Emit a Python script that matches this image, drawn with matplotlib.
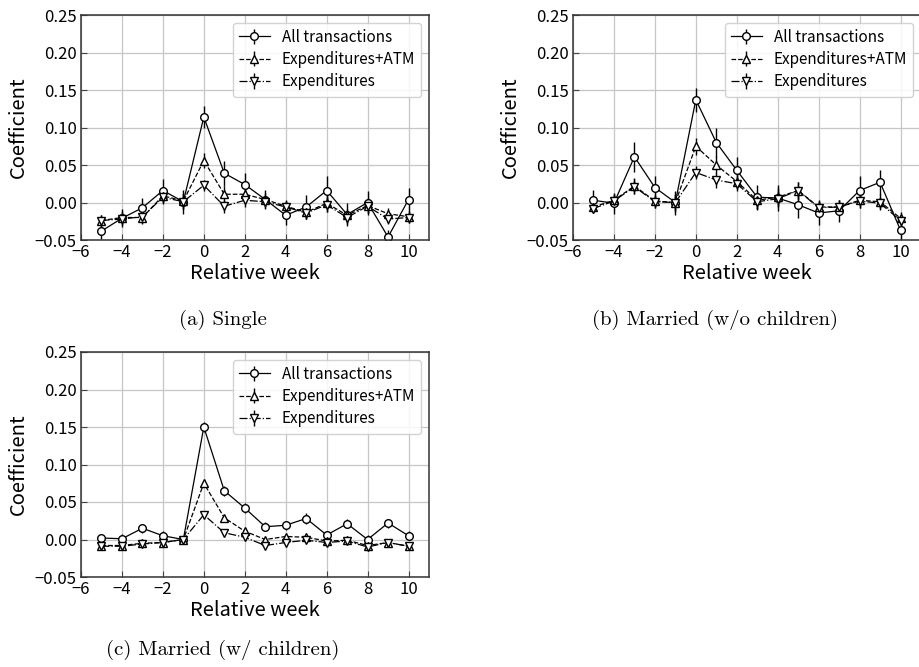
import matplotlib
matplotlib.use("Agg")
import matplotlib.pyplot as plt
from matplotlib.ticker import FuncFormatter
import numpy as np

# Relative weeks around the event
weeks = np.arange(-5, 11)

series_labels = ["All transactions", "Expenditures+ATM", "Expenditures"]
series_styles = ["-", "--", "-."]
series_markers = ["o", "^", "v"]

# (a) Single
single_all = [-0.038, -0.021, -0.007, 0.016, 0.001, 0.114, 0.039, 0.024, 0.004, -0.017,
              -0.006, 0.016, -0.016, 0.000, -0.046, 0.004]
single_all_err = [0.011, 0.012, 0.013, 0.015, 0.016, 0.015, 0.017, 0.015, 0.013, 0.013,
                  0.016, 0.020, 0.015, 0.016, 0.010, 0.016]
single_atm = [-0.024, -0.020, -0.020, 0.009, 0.002, 0.056, 0.011, 0.011, 0.004, -0.005,
              -0.013, -0.001, -0.017, -0.004, -0.015, -0.019]
single_atm_err = [0.008, 0.009, 0.009, 0.010, 0.011, 0.010, 0.011, 0.010, 0.009, 0.009,
                  0.009, 0.011, 0.009, 0.010, 0.008, 0.008]
single_exp = [-0.024, -0.022, -0.019, 0.007, 0.001, 0.023, -0.005, 0.003, 0.001, -0.006,
              -0.014, -0.003, -0.020, -0.005, -0.022, -0.020]
single_exp_err = [0.007, 0.008, 0.008, 0.009, 0.010, 0.007, 0.009, 0.009, 0.008, 0.008,
                  0.008, 0.010, 0.008, 0.009, 0.007, 0.007]

# (b) Married without children
nokid_all = [0.003, -0.001, 0.061, 0.020, 0.000, 0.137, 0.080, 0.043, 0.007, 0.006,
             -0.003, -0.014, -0.011, 0.016, 0.027, -0.037]
nokid_all_err = [0.014, 0.014, 0.020, 0.016, 0.016, 0.016, 0.019, 0.018, 0.017, 0.017,
                 0.018, 0.016, 0.015, 0.019, 0.017, 0.015]
nokid_atm = [-0.006, 0.003, 0.022, 0.002, 0.000, 0.075, 0.050, 0.028, 0.003, 0.007,
             0.016, -0.006, -0.006, 0.003, 0.001, -0.021]
nokid_atm_err = [0.007, 0.009, 0.011, 0.009, 0.012, 0.011, 0.012, 0.010, 0.011, 0.012,
                 0.012, 0.010, 0.010, 0.010, 0.010, 0.008]
nokid_exp = [-0.008, 0.002, 0.021, 0.001, 0.000, 0.040, 0.030, 0.025, 0.001, 0.005,
             0.016, -0.007, -0.006, 0.002, -0.001, -0.024]
nokid_exp_err = [0.006, 0.008, 0.010, 0.008, 0.010, 0.009, 0.010, 0.009, 0.010, 0.011,
                 0.011, 0.009, 0.009, 0.009, 0.009, 0.007]

# (c) Married with children
kids_all = [0.002, 0.001, 0.015, 0.005, 0.000, 0.150, 0.065, 0.042, 0.017, 0.019,
            0.028, 0.006, 0.021, 0.000, 0.022, 0.005]
kids_all_err = [0.006, 0.006, 0.006, 0.006, 0.005, 0.007, 0.007, 0.007, 0.006, 0.006,
                0.007, 0.006, 0.006, 0.006, 0.006, 0.006]
kids_atm = [-0.008, -0.008, -0.005, -0.004, 0.000, 0.075, 0.029, 0.011, 0.000, 0.004,
            0.003, -0.002, -0.001, -0.008, -0.004, -0.009]
kids_atm_err = [0.004, 0.004, 0.004, 0.004, 0.004, 0.004, 0.004, 0.004, 0.004, 0.004,
                0.004, 0.004, 0.004, 0.004, 0.004, 0.004]
kids_exp = [-0.009, -0.009, -0.006, -0.004, 0.000, 0.033, 0.009, 0.003, -0.008, -0.004,
            -0.001, -0.004, -0.002, -0.010, -0.004, -0.009]
kids_exp_err = [0.003, 0.003, 0.003, 0.003, 0.003, 0.003, 0.003, 0.003, 0.003, 0.003,
                0.003, 0.003, 0.003, 0.003, 0.003, 0.003]

panels = [
    ("(a) Single", [single_all, single_atm, single_exp],
     [single_all_err, single_atm_err, single_exp_err]),
    ("(b) Married (w/o children)", [nokid_all, nokid_atm, nokid_exp],
     [nokid_all_err, nokid_atm_err, nokid_exp_err]),
    ("(c) Married (w/ children)", [kids_all, kids_atm, kids_exp],
     [kids_all_err, kids_atm_err, kids_exp_err]),
]

W, H = 919, 667
plt.rcParams["font.family"] = ["Noto Sans CJK JP", "DejaVu Sans"]
plt.rcParams["axes.unicode_minus"] = True
fig = plt.figure(figsize=(W / 100, H / 100), dpi=100)

# axes boxes in pixels: left, top, width, height
boxes = [(81, 15, 348, 225), (573, 15, 348, 225), (81, 352, 348, 225)]
caption_xy = [(223, 320), (715, 320), (223, 650)]

ytick_fmt = FuncFormatter(lambda v, _: f"{v:.2f}".replace("-", "\u2212"))
xtick_fmt = FuncFormatter(lambda v, _: f"{v:.0f}".replace("-", "\u2212"))

for (title, vals, errs), (l, t, w, h), (cx, cy) in zip(panels, boxes, caption_xy):
    ax = fig.add_axes([l / W, 1 - (t + h) / H, w / W, h / H])
    for v, e, lab, ls, mk in zip(vals, errs, series_labels, series_styles, series_markers):
        ax.errorbar(weeks, v, yerr=e, fmt=mk, linestyle=ls, color="black",
                    mfc="white", mec="black", ms=5.5, lw=0.9, elinewidth=1.0,
                    capsize=0, label=lab)
    ax.set_xlim(-6, 11)
    ax.set_ylim(-0.05, 0.25)
    ax.set_xticks(np.arange(-6, 11, 2))
    ax.set_yticks(np.arange(-0.05, 0.2501, 0.05))
    ax.yaxis.set_major_formatter(ytick_fmt)
    ax.xaxis.set_major_formatter(xtick_fmt)
    ax.grid(True, color="#c6c6c6", lw=0.9)
    ax.set_axisbelow(True)
    ax.tick_params(direction="in", length=4, labelsize=12, pad=3, color="#444444")
    for s in ax.spines.values():
        s.set_color("#333333")
        s.set_linewidth(1.1)
    ax.set_xlabel("Relative week", fontsize=14.5, labelpad=1)
    ax.set_ylabel("Coefficient", fontsize=14.5, labelpad=4)
    leg = ax.legend(loc="upper right", fontsize=11, frameon=True, fancybox=True,
                    borderaxespad=0.5, handlelength=2.0, labelspacing=0.35)
    leg.get_frame().set_edgecolor("#cccccc")
    leg.get_frame().set_alpha(0.85)
    fig.text(cx / W, 1 - cy / H, title, ha="center", va="center",
             fontsize=15, family="cmr10")

fig.savefig("out.png", dpi=100)
